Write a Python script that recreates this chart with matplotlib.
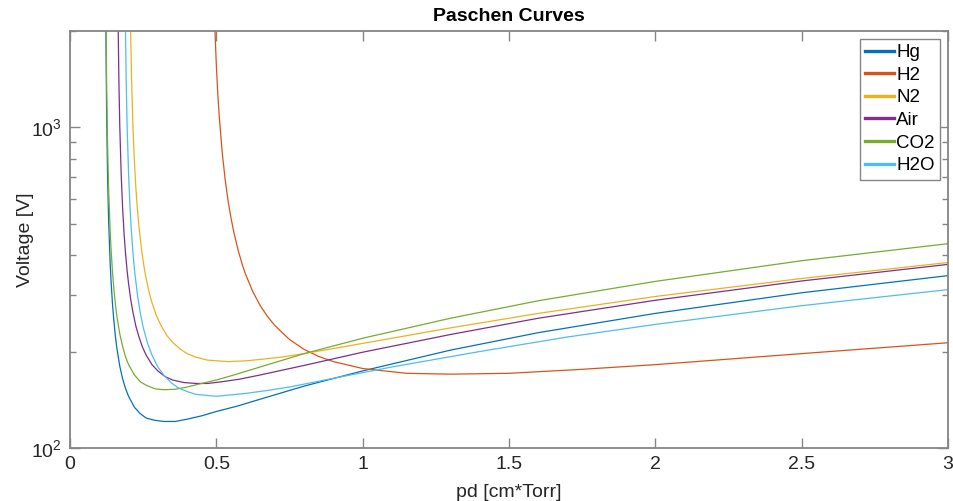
import matplotlib
matplotlib.use("Agg")
import matplotlib.pyplot as plt
from matplotlib.ticker import LogLocator, NullFormatter, FixedLocator, FixedFormatter

plt.rcParams['font.family'] = ['Liberation Sans', 'DejaVu Sans']
plt.rcParams['mathtext.default'] = 'regular'

# values (pd in cm*Torr, breakdown voltage in V)
pd_hg = [0.122, 0.123, 0.125, 0.128, 0.132, 0.137, 0.14, 0.145, 0.15, 0.155, 0.16, 0.17,
         0.18, 0.19, 0.2, 0.22, 0.24, 0.26, 0.29, 0.32, 0.36, 0.4, 0.45, 0.5, 0.57,
         0.65, 0.8, 1.0, 1.3, 1.6, 2.0, 2.5, 3.0]
v_hg = [2594, 1778, 1109, 724, 508, 380, 334, 282, 248, 223, 205, 180,
        164, 153, 145, 134, 128, 124, 122, 121, 121, 123, 126, 130, 135,
        142, 156, 174, 202, 229, 263, 305, 345]

pd_h2 = [0.49, 0.495, 0.5, 0.505, 0.51, 0.52, 0.53, 0.54, 0.55, 0.56, 0.575, 0.59, 0.6,
         0.625, 0.65, 0.675, 0.7, 0.75, 0.8, 0.85, 0.9, 1.0, 1.15, 1.3, 1.5, 1.75,
         2.0, 2.5, 3.0]
v_h2 = [2963, 2036, 1559, 1270, 1078, 836, 689, 591, 522, 470, 412, 370, 348,
        307, 278, 257, 241, 218, 203, 193, 186, 177, 171, 170, 171, 176,
        182, 197, 213]

pd_n2 = [0.204, 0.207, 0.21, 0.215, 0.22, 0.225, 0.23, 0.235, 0.245, 0.253, 0.26, 0.27,
         0.28, 0.295, 0.31, 0.33, 0.35, 0.375, 0.4, 0.43, 0.47, 0.54, 0.6, 0.65, 0.72,
         0.8, 1.0, 1.3, 1.6, 2.0, 2.5, 3.0]
v_n2 = [3370, 2011, 1445, 1004, 782, 648, 559, 496, 411, 367, 338, 307,
        284, 259, 242, 225, 214, 204, 197, 192, 188, 186, 187, 189, 192,
        197, 212, 237, 263, 297, 338, 379]

pd_air = [0.163, 0.165, 0.167, 0.17, 0.175, 0.18, 0.185, 0.19, 0.195, 0.2, 0.207, 0.215,
          0.225, 0.235, 0.247, 0.26, 0.28, 0.3, 0.325, 0.35, 0.39, 0.43, 0.47, 0.52,
          0.58, 0.65, 0.8, 1.0, 1.3, 1.6, 2.0, 2.5, 3.0]
v_air = [3067, 1906, 1395, 1009, 706, 553, 462, 402, 358, 326, 292, 265,
         240, 223, 207, 195, 182, 174, 167, 163, 160, 159, 159, 161,
         164, 169, 181, 199, 226, 254, 289, 332, 374]

pd_co2 = [0.122, 0.123, 0.125, 0.128, 0.132, 0.137, 0.14, 0.145, 0.15, 0.155, 0.16, 0.17,
          0.18, 0.19, 0.2, 0.22, 0.24, 0.26, 0.29, 0.32, 0.36, 0.4, 0.45, 0.5, 0.57,
          0.65, 0.8, 1.0, 1.3, 1.6, 2.0, 2.5, 3.0]
v_co2 = [3267, 2239, 1397, 912, 640, 479, 421, 355, 312, 281, 258, 227,
         207, 192, 182, 169, 161, 157, 153, 152, 152.5, 155, 159, 163, 170,
         179, 197, 220, 254, 288, 331, 384, 434]

pd_h2o = [0.188, 0.19, 0.192, 0.195, 0.2, 0.205, 0.21, 0.215, 0.22, 0.23, 0.24, 0.25,
          0.265, 0.28, 0.3, 0.32, 0.345, 0.37, 0.4, 0.43, 0.5, 0.6, 0.67, 0.75, 0.9,
          1.1, 1.4, 1.7, 2.0, 2.5, 3.0]
v_h2o = [2869, 1861, 1389, 1017, 717, 563, 470, 407, 362, 302, 264, 238,
         212, 195, 179, 169, 160, 154, 150, 147, 145, 148, 151, 155, 165,
         179, 200, 222, 243, 278, 312]

gases = ['Hg', 'H2', 'N2', 'Air', 'CO2', 'H2O']
series = [(pd_hg, v_hg), (pd_h2, v_h2), (pd_n2, v_n2),
          (pd_air, v_air), (pd_co2, v_co2), (pd_h2o, v_h2o)]
colors = ['#0072BD', '#D95319', '#EDB120', '#7E2F8E', '#77AC30', '#4DBEEE']

x_ticks = [0, 0.5, 1, 1.5, 2, 2.5, 3]
x_labels = ['0', '0.5', '1', '1.5', '2', '2.5', '3']

fig = plt.figure(figsize=(9.54, 5.01), dpi=100)
ax = fig.add_axes([0.0734, 0.1058, 0.9203, 0.8323])

for name, (x, y), c in zip(gases, series, colors):
    ax.plot(x, y, color=c, lw=0.9, label=name)

ax.set_yscale('log')
ax.set_xlim(0, 3)
ax.set_ylim(100, 2000)

ax.xaxis.set_major_locator(FixedLocator(x_ticks))
ax.xaxis.set_major_formatter(FixedFormatter(x_labels))
ax.yaxis.set_major_locator(LogLocator(base=10, numticks=5))
ax.yaxis.set_minor_locator(LogLocator(base=10, subs=range(2, 10), numticks=20))
ax.yaxis.set_minor_formatter(NullFormatter())

gray = '#858585'
for s in ax.spines.values():
    s.set_color(gray)
    s.set_linewidth(1.3)
ax.tick_params(which='both', direction='in', top=True, right=True, color=gray,
               labelcolor='#262626', labelsize=14, width=1.0)
ax.tick_params(which='major', length=7, pad=6)
ax.tick_params(which='minor', length=4)

ax.set_title('Paschen Curves', fontsize=14, fontweight='bold', color='#000000', pad=7)
ax.set_xlabel('pd [cm*Torr]', fontsize=14, color='#262626', labelpad=8)
ax.set_ylabel('Voltage [V]', fontsize=14, color='#262626', labelpad=-2)

leg = ax.legend(loc='upper right', fontsize=13.5, frameon=True, fancybox=False,
                edgecolor=gray, framealpha=1, handlelength=1.55, handletextpad=0.1,
                labelspacing=0.29, borderpad=0.3, borderaxespad=0.4)
leg.get_frame().set_linewidth(1.0)
for h in leg.get_lines():
    h.set_linewidth(2.4)

fig.savefig('out.png', dpi=100)
